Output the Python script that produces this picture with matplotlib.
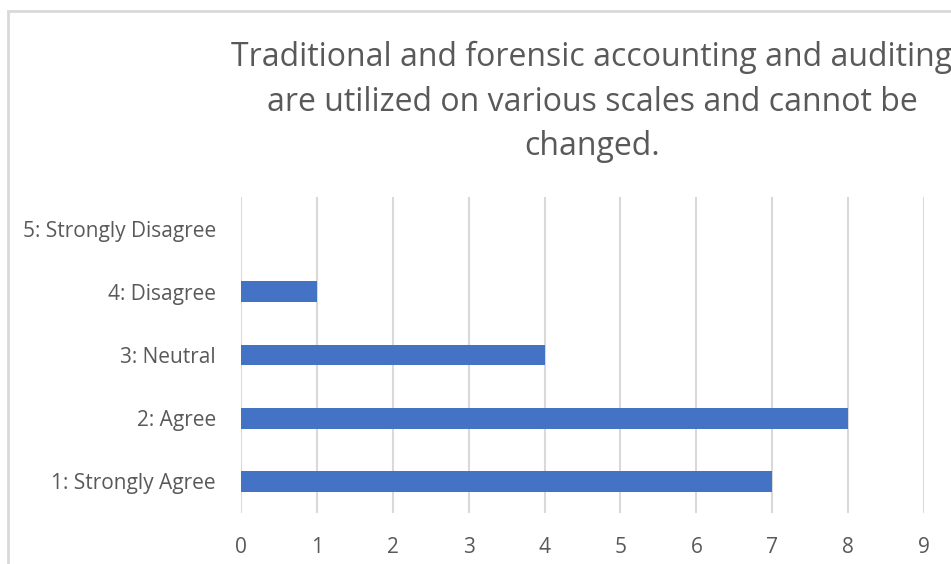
import matplotlib.pyplot as plt
from matplotlib.patches import Rectangle

# survey answers (bottom to top)
categories = ["1: Strongly Agree", "2: Agree", "3: Neutral", "4: Disagree", "5: Strongly Disagree"]
counts = [7, 8, 4, 1, 0]
x_ticks = [0, 1, 2, 3, 4, 5, 6, 7, 8, 9]
title = "Traditional and forensic accounting and auditing\nare utilized on various scales and cannot be\nchanged."

plt.rcParams["font.family"] = ["Open Sans", "DejaVu Sans"]
grey = "#595959"

W, H = 951, 564
fig = plt.figure(figsize=(W / 100, H / 100), dpi=100)

# chart border (light grey, cut off at right / bottom like the screenshot)
fig.patches.append(Rectangle((8 / W, -0.1), 1.2, (H - 11) / H + 0.1, transform=fig.transFigure,
                             fill=False, edgecolor="#d9d9d9", lw=2))

ax = fig.add_axes([241 / W, (H - 513) / H, (924 - 241) / W, (513 - 197) / H])
ax.barh(range(len(categories)), counts, height=0.33, color="#4472C4", zorder=3)
ax.set_xlim(0, 9)
ax.set_ylim(-0.5, len(categories) - 0.5)
ax.set_xticks(x_ticks)
ax.set_yticks(range(len(categories)))
ax.set_yticklabels(categories)
ax.grid(axis="x", color="#d9d9d9", lw=1.5, zorder=0)
for s in ax.spines.values():
    s.set_visible(False)
ax.tick_params(length=0, colors=grey, labelsize=15)
ax.tick_params(axis="y", pad=18)
ax.tick_params(axis="x", pad=17)

fig.text(592 / W, 1 - 102 / H, title, ha="center", va="center", fontsize=23,
         color=grey, linespacing=1.47)

fig.savefig("out.png", dpi=100)
